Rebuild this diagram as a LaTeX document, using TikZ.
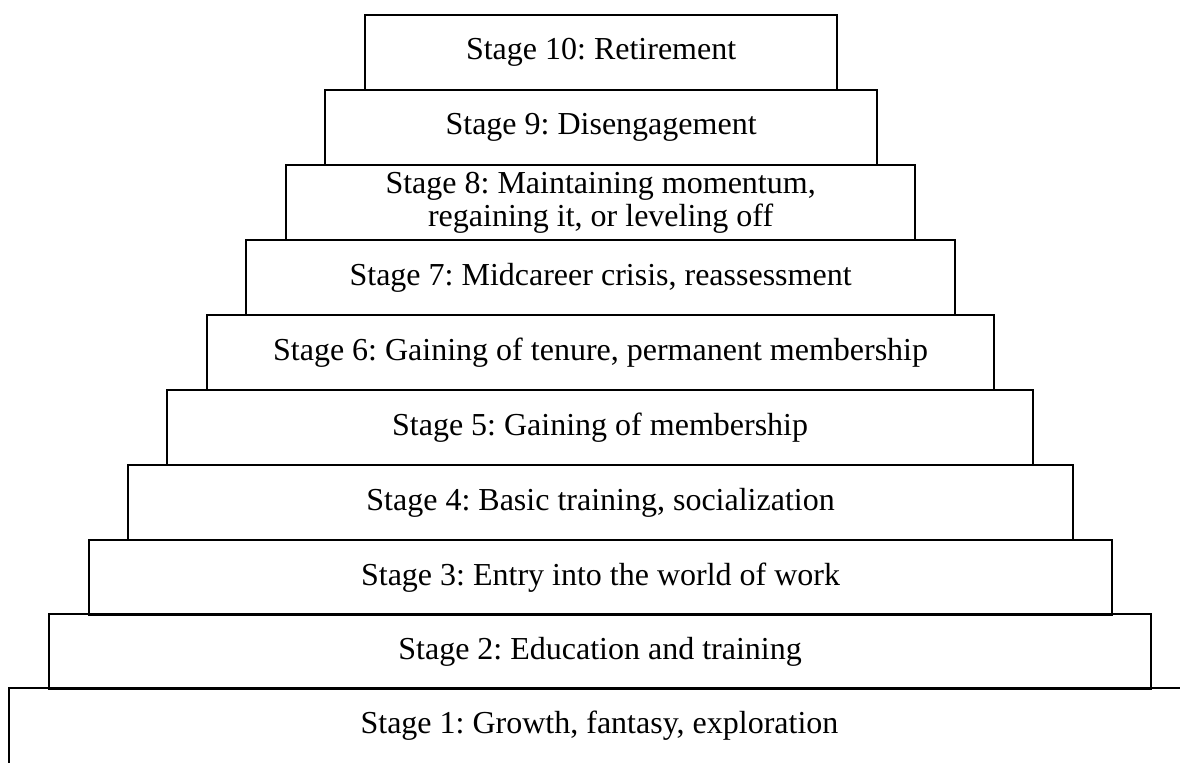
\documentclass[tikz,border=0pt]{standalone}
\usepackage{fontspec}
\setmainfont{Liberation Serif}
\frenchspacing
\begin{document}
\begin{tikzpicture}[x=0.5pt,y=-0.5pt,
  stagebox/.style={draw, line width=1.1pt, minimum height=37.5pt, inner sep=0pt,
    align=center, anchor=north west, font=\fontsize{16}{16.5}\selectfont},
  stagetext/.style={inner sep=0pt, align=center, font=\fontsize{16}{16.5}\selectfont}]
\useasboundingbox (0,0) rectangle (1180,763);
\clip (0,0) rectangle (1180,763);
% Stage 1 (open at bottom and right)
\draw[line width=1.1pt] (9,800) -- (9,688) -- (1200,688);
\node[stagetext] (s1) at (599.5,725.5) {Stage 1: Growth, fantasy, exploration};
\node[stagebox, minimum width=551pt]   (s2)  at (48,613)  {Stage 2: Education and training};
\node[stagebox, minimum width=511.5pt] (s3)  at (88,539)  {Stage 3: Entry into the world of work};
\node[stagebox, minimum width=472.5pt] (s4)  at (127,464) {Stage 4: Basic training, socialization};
\node[stagebox, minimum width=433pt]   (s5)  at (166,389) {Stage 5: Gaining of membership};
\node[stagebox, minimum width=393.5pt] (s6)  at (206,314) {Stage 6: Gaining of tenure, permanent membership};
\node[stagebox, minimum width=354.5pt] (s7)  at (245,239) {Stage 7: Midcareer crisis, reassessment};
\node[stagebox, minimum width=314.5pt] (s8)  at (285,164) {Stage 8: Maintaining momentum,\\regaining it, or leveling off};
\node[stagebox, minimum width=276pt]   (s9)  at (324,89)  {Stage 9: Disengagement};
\node[stagebox, minimum width=236pt]   (s10) at (364,14)  {Stage 10: Retirement};
\end{tikzpicture}
\end{document}
